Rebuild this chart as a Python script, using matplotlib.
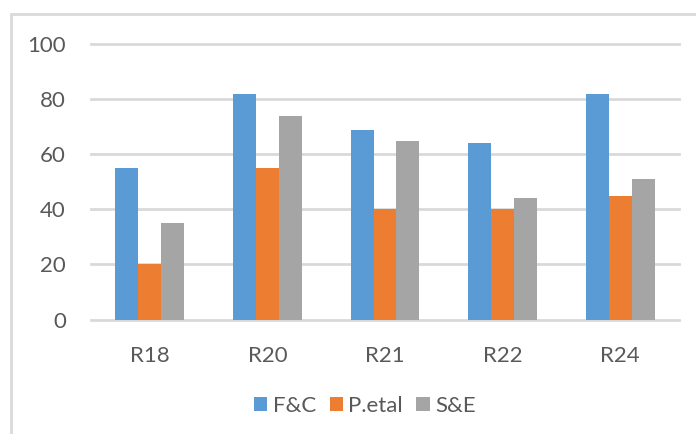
import matplotlib
matplotlib.use("Agg")
import matplotlib.pyplot as plt
from matplotlib.patches import Rectangle
import numpy as np

categories = ["R18", "R20", "R21", "R22", "R24"]
series_names = ["F&C", "P.etal", "S&E"]
fc_values = [55, 82, 69, 64, 82]
petal_values = [20, 55, 40, 40, 45]
se_values = [35, 74, 65, 44, 51]
y_ticks = [0, 20, 40, 60, 80, 100]

colors = ["#5B9BD5", "#ED7D31", "#A5A5A5"]
text_color = "#595959"
grid_color = "#D9D9D9"

plt.rcParams["font.family"] = ["Lato", "DejaVu Sans"]

fig = plt.figure(figsize=(6.96, 4.34), dpi=100)
W, H = 696, 434
ax = fig.add_axes([91 / W, 1 - 319.5 / H, (679 - 91) / W, (319.5 - 44.3) / H])

x = np.arange(len(categories))
bar_w = 0.195
for i, (vals, name, c) in enumerate(zip([fc_values, petal_values, se_values], series_names, colors)):
    ax.bar(x + (i - 1) * bar_w, vals, width=bar_w, color=c, label=name, zorder=3)

ax.set_xlim(-0.5, len(categories) - 0.5)
ax.set_ylim(0, 100)
ax.set_yticks(y_ticks)
ax.set_xticks(x)
ax.set_xticklabels(categories)
for yv in y_ticks:
    ax.axhline(yv, color=grid_color, lw=2.0, zorder=1, clip_on=False)
for s in ax.spines.values():
    s.set_visible(False)
ax.tick_params(axis="both", length=0, labelsize=16, colors=text_color)
ax.tick_params(axis="y", pad=18)
ax.tick_params(axis="x", pad=19)

# chart frame (left and top edges visible)
fig.patches.append(Rectangle((11 / W, -0.05), 1.2, (1 - 14 / H) + 0.05,
                             transform=fig.transFigure, fill=False,
                             edgecolor="#D9D9D9", lw=2.0))

handles, labels = ax.get_legend_handles_labels()
fig.legend(handles, labels, loc="center", bbox_to_anchor=(365 / W, 1 - 406 / H),
           ncol=3, frameon=False, fontsize=16, handlelength=0.6, handleheight=0.6,
           handletextpad=0.25, columnspacing=0.6, labelcolor=text_color)

fig.savefig("out.png", dpi=100)
